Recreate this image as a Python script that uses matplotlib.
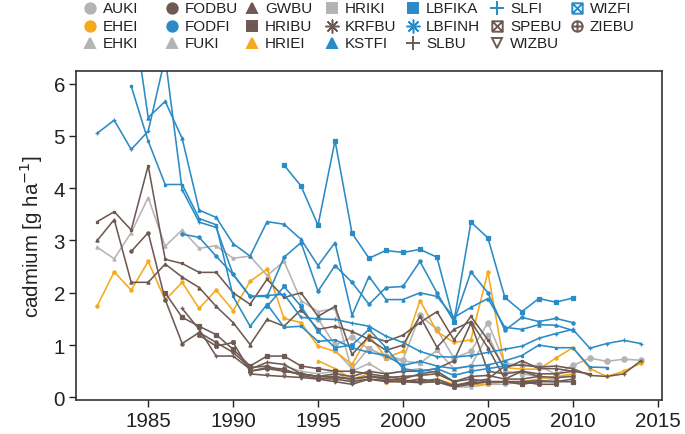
import matplotlib
matplotlib.use("Agg")
import matplotlib.pyplot as plt
import numpy as np
from matplotlib.lines import Line2D
from matplotlib.path import Path

plt.rcParams['font.family'] = ['Liberation Sans', 'DejaVu Sans']

# cadmium per site, first year + yearly values [g ha-1]
auki_start, auki = 1995, [1.5, 1.0, 1.15, 0.92, 0.8, 0.72, 1.57, 1.3, 0.75, 0.88, 1.43, 0.65,
                          0.61, 0.61, 0.44, 0.61, 0.75, 0.69, 0.73, 0.71]
ehei_start, ehei = 1982, [1.75, 2.4, 2.05, 2.6, 1.86, 2.2, 1.7, 2.05, 1.66, 2.22, 2.45, 1.51,
                          1.43, 0.98, 0.88, 0.63, 1.19, 0.76, 0.88, 1.85, 1.26, 1.05, 1.1, 2.4,
                          0.57, 0.54, 0.54, 0.75, 0.95, 0.55, 0.4, 0.5, 0.65]
ehki_start, ehki = 1982, [2.87, 2.65, 3.15, 3.82, 2.89, 3.2, 2.85, 2.9, 2.66, 2.7, 2.33, 2.6,
                          1.85, 1.64, 1.7, 0.5, 0.65, 0.45, 0.5, 0.55, 0.45]
fodbu_start, fodbu = 1984, [2.79, 3.15, 1.87, 1.03, 1.24, 1.05, 0.86, 0.57, 0.6, 0.5, 0.45, 0.4,
                            0.4, 0.35, 0.4, 0.38, 0.4, 0.42, 0.45, 0.3, 0.4, 0.42, 0.35, 0.35,
                            0.4, 0.38, 0.4]
fodfi_start, fodfi = 1987, [3.12, 3.06, 2.7, 2.35, 1.93, 1.93, 2.68, 2.96, 2.03, 2.52, 2.2, 1.78,
                            2.1, 2.12, 2.6, 2.0, 1.45, 2.4, 2.0, 1.28, 1.53, 1.45, 1.51, 1.43]
fuki_start, fuki = 1993, [0.6, 0.5, 0.45, 0.5, 0.3, 0.4, 0.35, 0.3, 0.3, 0.3, 0.2, 0.2, 0.25,
                          0.25, 0.3, 0.3, 0.35]
gwbu_start, gwbu = 1982, [3.0, 3.4, 2.2, 2.2, 2.55, 2.3, 2.1, 1.74, 1.43, 1.01, 1.49, 1.36,
                          1.68, 1.3, 1.36, 1.26, 1.11, 0.9, 1.0, 1.55, 0.96, 1.3, 1.45, 0.95,
                          0.35, 0.5, 0.4]
hribu_start, hribu = 1986, [2.0, 1.53, 1.36, 1.2, 0.92, 0.6, 0.79, 0.79, 0.6, 0.55, 0.5, 0.5,
                            0.45, 0.4, 0.35, 0.45, 0.5, 0.3, 0.35, 0.3, 0.3, 0.25, 0.3, 0.3, 0.3]
hriei_start, hriei = 1995, [0.7, 0.55, 0.35, 0.45, 0.3, 0.3, 0.3, 0.35, 0.25, 0.25, 0.25, 0.3,
                            0.3, 0.35, 0.4, 0.45]
hriki_start, hriki = 1996, [0.9, 0.55, 0.95, 0.75, 0.7, 0.65, 0.9, 0.55, 0.6, 1.2, 0.5, 0.45,
                            0.4, 0.35, 0.45]
krfbu_start, krfbu = 1982, [3.36, 3.55, 3.2, 4.43, 2.64, 2.56, 2.39, 2.39, 2.0, 1.78, 2.26, 1.91,
                            2.0, 1.55, 1.74, 0.82, 1.17, 1.07, 1.19, 1.43, 1.64, 1.1, 1.55, 1.1,
                            0.55, 0.7, 0.55, 0.55, 0.5, 0.45]
kstfi_start, kstfi = 1984, [7.6, 5.35, 5.66, 4.95, 3.58, 3.44, 2.94, 2.70, 3.36, 3.31, 3.02, 2.52,
                            2.96, 1.57, 2.31, 1.87, 1.87, 2.0, 1.93, 1.53, 1.72, 1.89, 1.34, 1.3,
                            1.39, 1.38, 1.28]
lbfika_start, lbfika = 1993, [4.44, 4.04, 3.29, 4.91, 3.14, 2.66, 2.81, 2.77, 2.83, 2.68, 1.45,
                              3.35, 3.05, 1.91, 1.64, 1.89, 1.82, 1.9]
lbfinh_start, lbfinh = 1984, [5.95, 4.9, 4.07, 4.07, 3.42, 3.3, 1.93, 1.36, 1.78, 1.34, 1.36, 1.07,
                              1.1, 0.95, 0.86, 0.8, 0.61, 0.69, 0.6, 0.55, 0.6, 0.62, 0.7, 0.8,
                              1.0, 0.95, 0.95, 0.58, 0.57]
slbu_start, slbu = 1987, [1.7, 1.3, 0.79, 0.79, 0.54, 0.67, 0.63, 0.45, 0.4, 0.38, 0.35, 0.4,
                          0.35, 0.33, 0.3, 0.35, 0.22, 0.3, 0.35, 0.6, 0.62, 0.58, 0.6, 0.55,
                          0.42, 0.4, 0.45, 0.7]
slfi_start, slfi = 1982, [5.05, 5.3, 4.74, 5.09, 6.5, 3.97, 3.35, 3.25, 2.35, 1.93, 1.95, 1.97,
                          1.53, 1.5, 1.49, 1.42, 1.36, 1.17, 1.05, 0.88, 0.78, 0.77, 0.8, 0.86,
                          0.92, 0.98, 1.13, 1.22, 1.3, 0.94, 1.03, 1.09, 1.03]
spebu_start, spebu = 1988, [1.19, 0.98, 1.05, 0.5, 0.57, 0.54, 0.42, 0.36, 0.35, 0.3, 0.35, 0.32,
                            0.3, 0.35, 0.3, 0.2, 0.25, 0.3, 0.3, 0.3, 0.25, 0.25]
wizbu_start, wizbu = 1991, [0.45, 0.42, 0.4, 0.38, 0.35, 0.3, 0.25, 0.35, 0.3, 0.3, 0.28, 0.3,
                            0.22, 0.28, 0.3, 0.3, 0.3, 0.32, 0.3, 0.35]
wizfi_start, wizfi = 1992, [1.74, 2.12, 1.74, 1.26, 0.95, 1.0, 1.3, 0.95, 0.55, 0.5, 0.55, 0.42,
                            0.5, 0.55, 0.6]
ziebu_start, ziebu = 1991, [0.5, 0.55, 0.5, 0.45, 0.4, 0.45, 0.4, 0.5, 0.45, 0.5, 0.5, 0.55, 0.7,
                            1.42, 0.5, 0.45, 0.5, 0.45, 0.45, 0.5]

names = ["AUKI", "EHEI", "EHKI", "FODBU", "FODFI", "FUKI", "GWBU", "HRIBU", "HRIEI", "HRIKI",
         "KRFBU", "KSTFI", "LBFIKA", "LBFINH", "SLBU", "SLFI", "SPEBU", "WIZBU", "WIZFI", "ZIEBU"]
series = [(auki_start, auki), (ehei_start, ehei), (ehki_start, ehki), (fodbu_start, fodbu),
          (fodfi_start, fodfi), (fuki_start, fuki), (gwbu_start, gwbu), (hribu_start, hribu),
          (hriei_start, hriei), (hriki_start, hriki), (krfbu_start, krfbu), (kstfi_start, kstfi),
          (lbfika_start, lbfika), (lbfinh_start, lbfinh), (slbu_start, slbu), (slfi_start, slfi),
          (spebu_start, spebu), (wizbu_start, wizbu), (wizfi_start, wizfi), (ziebu_start, ziebu)]

# colours by tree species
grey, orange, brown, blue = "#b4b4b4", "#f5a91d", "#6e5a52", "#2a8bc6"

# custom markers
M, L = Path.MOVETO, Path.LINETO
boxx = Path([(-1, -1), (1, -1), (1, 1), (-1, 1), (-1, -1), (-1, -1), (1, 1), (-1, 1), (1, -1)],
            [M, L, L, L, L, M, L, M, L])
circplus = Path.make_compound_path(Path.unit_circle(),
                                   Path([(-1, 0), (1, 0)], [M, L]),
                                   Path([(0, -1), (0, 1)], [M, L]))
aster = (8, 2, 0)

styles = {
    "AUKI": (grey, "o", True), "EHEI": (orange, "o", True), "EHKI": (grey, "^", True),
    "FODBU": (brown, "o", True), "FODFI": (blue, "o", True), "FUKI": (grey, "^", True),
    "GWBU": (brown, "^", True), "HRIBU": (brown, "s", True), "HRIEI": (orange, "^", True),
    "HRIKI": (grey, "s", True), "KRFBU": (brown, aster, False), "KSTFI": (blue, "^", True),
    "LBFIKA": (blue, "s", True), "LBFINH": (blue, aster, False), "SLBU": (brown, "+", False),
    "SLFI": (blue, "+", False), "SPEBU": (brown, boxx, False), "WIZBU": (brown, "v", False),
    "WIZFI": (blue, boxx, False), "ZIEBU": (brown, circplus, False),
}

fig = plt.figure(figsize=(6.85, 4.35), dpi=100)
ax = fig.add_axes([76 / 685, 1 - 401 / 435, 586 / 685, 329 / 435])

# draw grey first, then orange, brown, blue on top
order = [n for c in (grey, orange, brown, blue) for n in names if styles[n][0] == c]
for n in order:
    start, vals = series[names.index(n)]
    col, mk, filled = styles[n]
    yrs = np.arange(start, start + len(vals))
    ms = 3.8 if n == "AUKI" else 2.3
    ax.plot(yrs, vals, color=col, lw=1.15, marker=mk, ms=ms, mew=0.9,
            mfc=col if filled else "none", mec=col)

ax.set_xlim(1980.75, 2015.25)
ax.set_ylim(-0.05, 6.24)
ax.set_xticks([1985, 1990, 1995, 2000, 2005, 2010, 2015])
ax.set_yticks([0, 1, 2, 3, 4, 5, 6])
ax.tick_params(direction="out", length=5, width=1.0, labelsize=14.8, colors="#222222",
               top=False, right=False, pad=3)
for s in ax.spines.values():
    s.set_linewidth(1.2)
    s.set_color("#333333")
ax.set_ylabel("cadmium [g ha$^{-1}$]", fontsize=14.8, color="#222222", labelpad=6)

# legend laid out in fixed-width columns like the original
col_x = [90, 172, 252, 332, 413, 497, 577]
row_y = [9, 27, 44]
for i, n in enumerate(names):
    c, r = divmod(i, 3)
    x, y = col_x[c] / 685, 1 - row_y[r] / 435
    col, mk, filled = styles[n]
    size = 10 if mk in ("+", aster) else 7.5
    mew = 1.1 if mk == aster else 1.4
    fig.add_artist(Line2D([x], [y], transform=fig.transFigure, ls="none", marker=mk, ms=size,
                          mew=mew, mfc=col if filled else "none", mec=col, color=col))
    fig.text(x + 13 / 685, y, n, va="center", ha="left", fontsize=11, color="#222222")

fig.savefig("out.png", dpi=100)
